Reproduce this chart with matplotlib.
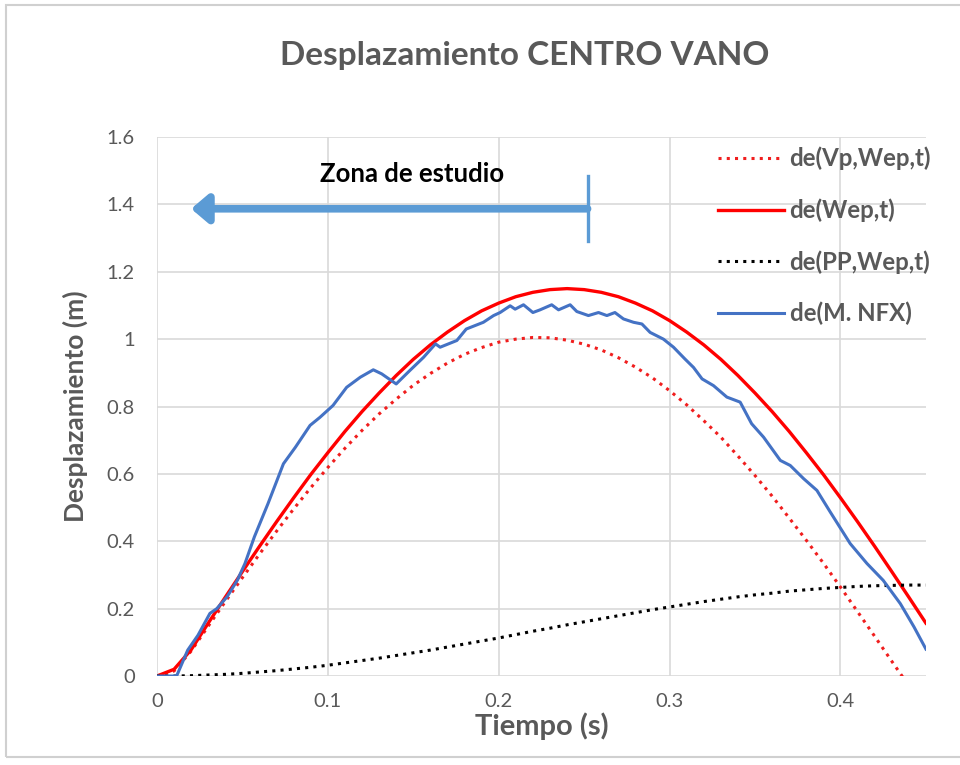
import matplotlib
matplotlib.use("Agg")
import matplotlib.pyplot as plt
from matplotlib.patches import Rectangle

# time grid for the analytical curves (s)
t = [round(0.01 * i, 2) for i in range(46)]

de_vp_wep = [0.0, 0.015, 0.074, 0.148, 0.221, 0.292, 0.362, 0.430, 0.496, 0.559,
             0.619, 0.676, 0.729, 0.778, 0.822, 0.863, 0.898, 0.929, 0.955, 0.975,
             0.991, 1.000, 1.005, 1.004, 0.997, 0.985, 0.968, 0.945, 0.917, 0.885,
             0.847, 0.805, 0.758, 0.709, 0.653, 0.595, 0.534, 0.469, 0.403, 0.335,
             0.264, 0.191, 0.118, 0.044, -0.029, -0.104]

de_wep = [0.0, 0.02, 0.078, 0.157, 0.234, 0.310, 0.385, 0.458, 0.529, 0.598,
          0.663, 0.726, 0.785, 0.840, 0.892, 0.940, 0.983, 1.021, 1.055, 1.084,
          1.107, 1.126, 1.139, 1.147, 1.150, 1.147, 1.139, 1.126, 1.107, 1.084,
          1.055, 1.021, 0.983, 0.940, 0.892, 0.840, 0.785, 0.726, 0.663, 0.598,
          0.529, 0.458, 0.385, 0.310, 0.234, 0.157]

de_pp_wep = [0.0, 0.0, 0.001, 0.003, 0.005, 0.008, 0.012, 0.016, 0.021, 0.026,
             0.032, 0.039, 0.046, 0.053, 0.061, 0.069, 0.077, 0.086, 0.095, 0.104,
             0.113, 0.123, 0.133, 0.142, 0.152, 0.161, 0.170, 0.179, 0.188, 0.197,
             0.205, 0.213, 0.221, 0.228, 0.235, 0.241, 0.246, 0.252, 0.256, 0.260,
             0.263, 0.266, 0.268, 0.269, 0.270, 0.270]

# measured (M. NFX)
t_nfx = [0.0, 0.0115, 0.018, 0.024, 0.031, 0.035, 0.041, 0.047, 0.0515, 0.057,
         0.065, 0.074, 0.081, 0.0896, 0.0954, 0.103, 0.111, 0.119, 0.1266, 0.1315,
         0.140, 0.148, 0.156, 0.163, 0.1657, 0.1755, 0.181, 0.191, 0.197, 0.2008,
         0.2067, 0.2096, 0.2145, 0.220, 0.2242, 0.231, 0.235, 0.2418, 0.2457, 0.2525,
         0.2584, 0.2633, 0.268, 0.273, 0.2789, 0.2838, 0.2886, 0.2964, 0.3023, 0.309,
         0.314, 0.319, 0.3257, 0.3335, 0.3413, 0.348, 0.355, 0.3648, 0.3706, 0.3784,
         0.3862, 0.394, 0.4057, 0.4155, 0.425, 0.435, 0.443, 0.45]
de_nfx = [0.0, 0.0, 0.077, 0.121, 0.186, 0.200, 0.235, 0.284, 0.334, 0.413,
          0.512, 0.630, 0.679, 0.744, 0.768, 0.803, 0.857, 0.887, 0.909, 0.897,
          0.867, 0.907, 0.946, 0.986, 0.976, 0.996, 1.030, 1.050, 1.070, 1.079,
          1.099, 1.089, 1.102, 1.079, 1.087, 1.102, 1.087, 1.102, 1.082, 1.070,
          1.079, 1.070, 1.079, 1.060, 1.050, 1.045, 1.020, 1.000, 0.976, 0.941,
          0.916, 0.882, 0.862, 0.828, 0.813, 0.749, 0.709, 0.640, 0.625, 0.586,
          0.551, 0.487, 0.393, 0.334, 0.284, 0.215, 0.146, 0.080]

xticks = [0, 0.1, 0.2, 0.3, 0.4]
xtick_labels = ["0", "0.1", "0.2", "0.3", "0.4"]
yticks = [0, 0.2, 0.4, 0.6, 0.8, 1.0, 1.2, 1.4, 1.6]
ytick_labels = ["0", "0.2", "0.4", "0.6", "0.8", "1", "1.2", "1.4", "1.6"]

plt.rcParams['font.family'] = ['Lato', 'DejaVu Sans']
grey = '#595959'

fig = plt.figure(figsize=(9.6, 7.65), dpi=100)
ax = fig.add_axes([0.1635, 0.1163, 0.801, 0.7046])

dot = (0, (1, 1.7))
ax.plot(t, de_vp_wep, color='#F01E1E', lw=2.2, ls=dot, label='de(Vp,Wep,t)')
ax.plot(t, de_wep, color='#FF0000', lw=2.4, label='de(Wep,t)')
ax.plot(t, de_pp_wep, color='black', lw=2.2, ls=dot, label='de(PP,Wep,t)')
ax.plot(t_nfx, de_nfx, color='#4472C4', lw=2.2, label='de(M. NFX)')

ax.set_xlim(0, 0.45)
ax.set_ylim(0, 1.6)
ax.set_xticks(xticks, xtick_labels)
ax.set_yticks(yticks, ytick_labels)
ax.tick_params(length=0, labelsize=14.5, labelcolor=grey)
ax.tick_params(axis='y', pad=16)
ax.tick_params(axis='x', pad=12)
ax.grid(True, color='#D9D9D9', lw=1.2)
ax.set_axisbelow(True)
for s in ax.spines.values():
    s.set_visible(False)

ax.set_xlabel('Tiempo (s)', fontsize=21, fontweight='bold', color=grey, labelpad=2)
ax.set_ylabel('Desplazamiento (m)', fontsize=19, fontweight='bold', color=grey, labelpad=13)
fig.text(0.547, 0.928, 'Desplazamiento CENTRO VANO', ha='center', va='center',
         fontsize=24, fontweight='bold', color=grey)

# study zone arrow
ax.annotate('', xy=(0.020, 1.387), xytext=(0.252, 1.387),
            arrowprops=dict(arrowstyle='-|>,head_length=1.0,head_width=0.85',
                            color='#5B9BD5', lw=5.5, shrinkA=0, shrinkB=0))
ax.plot([0.252, 0.252], [1.292, 1.484], color='#5B9BD5', lw=2.4)
ax.text(0.149, 1.49, 'Zona de estudio', ha='center', va='center',
        fontsize=18.5, fontweight='bold', color='black')

leg = ax.legend(loc='upper left', bbox_to_anchor=(0.729, 0.982), frameon=False,
                fontsize=17.3, handlelength=2.75, handletextpad=0.25, labelspacing=1.17,
                borderaxespad=0, borderpad=0)
for txt in leg.get_texts():
    txt.set_color(grey)
    txt.set_fontweight('bold')

fig.patches.append(Rectangle((0.006, 0.01), 1.2, 0.983, transform=fig.transFigure,
                             fill=False, edgecolor='#D0D0D0', lw=1.5))

fig.savefig('out.png', dpi=100)
